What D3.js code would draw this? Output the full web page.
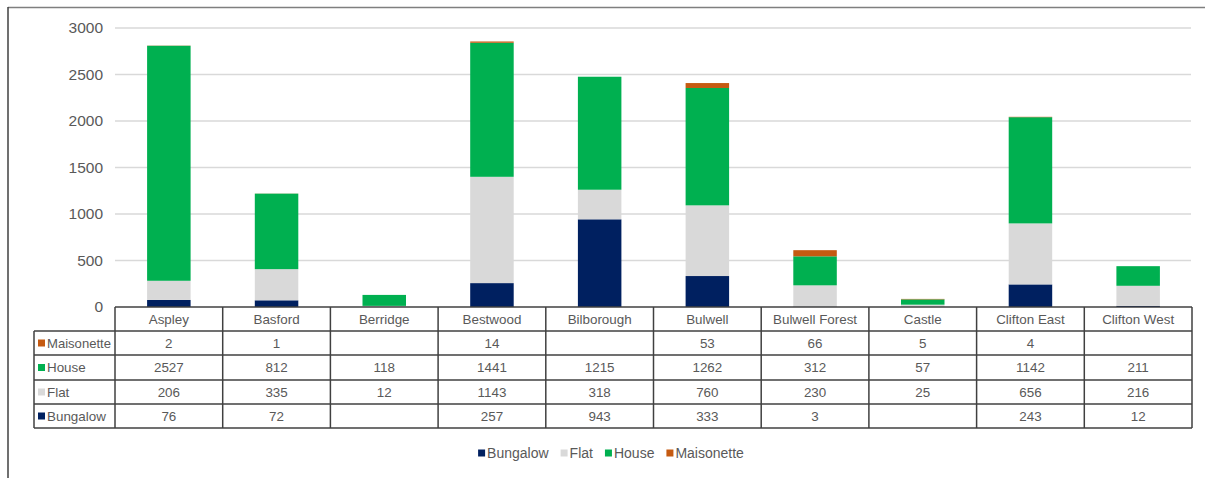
<!DOCTYPE html>
<html><head><meta charset="utf-8">
<script src="https://cdn.jsdelivr.net/npm/d3@7"></script>
<style>body{margin:0;background:#fff}svg{display:block}text{font-family:"Liberation Sans",Arial,sans-serif;fill:#595959}</style>
</head><body><svg id="c" width="1205" height="478"></svg>
<script>
const categories = ["Aspley","Basford","Berridge","Bestwood","Bilborough","Bulwell","Bulwell Forest","Castle","Clifton East","Clifton West"];
const bungalow = [76,72,null,257,943,333,3,null,243,12];
const flat = [206,335,12,1143,318,760,230,25,656,216];
const house = [2527,812,118,1441,1215,1262,312,57,1142,211];
const maisonette = [2,1,null,14,null,53,66,5,4,null];
const seriesNames = ["Bungalow","Flat","House","Maisonette"];
const seriesColors = ["#002060","#D9D9D9","#00B050","#C55A11"];
const yTicks = [0,500,1000,1500,2000,2500,3000];

const seriesVals = [bungalow, flat, house, maisonette];
const svg = d3.select("#c");
const x = d3.scaleBand().domain(categories).range([115,1192]).paddingInner(0).paddingOuter(0);
const y = d3.scaleLinear().domain([0,3000]).range([307,28]);
const fs = "13.4px";

// outer border (top & left)
svg.append("line").attr("x1",8).attr("x2",1205).attr("y1",7.5).attr("y2",7.5).attr("stroke","#7f7f7f").attr("stroke-width",1.5);
svg.append("line").attr("x1",8).attr("x2",8).attr("y1",7).attr("y2",478).attr("stroke","#404040").attr("stroke-width",1.5);

// gridlines
svg.append("g").selectAll("line").data(yTicks.filter(d=>d>0)).join("line")
  .attr("x1",115).attr("x2",1191).attr("y1",d=>y(d)).attr("y2",d=>y(d))
  .attr("stroke","#d9d9d9").attr("stroke-width",1.5);

// y axis labels
const yAxis = d3.axisLeft(y).tickValues(yTicks).tickSize(0).tickPadding(0).tickFormat(d3.format("d"));
const ya = svg.append("g").attr("transform","translate(103,0)").call(yAxis);
ya.select(".domain").remove();
ya.selectAll("text").style("font-size","15.5px").attr("fill","#595959").style("font-family","Liberation Sans, Arial");

// stacked bars
const rows = categories.map((c,i)=>{const o={cat:c}; seriesNames.forEach((s,j)=>o[s]=seriesVals[j][i]||0); return o;});
const stack = d3.stack().keys(seriesNames)(rows);
const bw = 43.5;
svg.append("g").selectAll("g").data(stack).join("g").attr("fill",(d,i)=>seriesColors[i])
  .selectAll("rect").data(d=>d).join("rect")
  .attr("x",d=>x(d.data.cat)+x.bandwidth()/2-bw/2).attr("width",bw)
  .attr("y",d=>y(d[1])).attr("height",d=>Math.max(0,y(d[0])-y(d[1])));

// data table
const rowTops = [307,331,355,380,404,428];
const tableOrder = [3,2,1,0];
const tg = svg.append("g");
const lineC = "#404040", lw = 1.5;
tg.append("line").attr("x1",115).attr("x2",1192).attr("y1",rowTops[0]).attr("y2",rowTops[0]).attr("stroke",lineC).attr("stroke-width",lw);
for (let r=1;r<rowTops.length;r++) tg.append("line").attr("x1",34).attr("x2",1192).attr("y1",rowTops[r]).attr("y2",rowTops[r]).attr("stroke",lineC).attr("stroke-width",lw);
tg.append("line").attr("x1",34).attr("x2",34).attr("y1",rowTops[1]).attr("y2",rowTops[5]).attr("stroke",lineC).attr("stroke-width",lw);
categories.forEach(c=>tg.append("line").attr("x1",x(c)).attr("x2",x(c)).attr("y1",rowTops[0]).attr("y2",rowTops[5]).attr("stroke",lineC).attr("stroke-width",lw));
tg.append("line").attr("x1",1192).attr("x2",1192).attr("y1",rowTops[0]).attr("y2",rowTops[5]).attr("stroke",lineC).attr("stroke-width",lw);
tg.selectAll("text.h").data(categories).join("text").attr("class","h")
  .attr("x",c=>x(c)+x.bandwidth()/2).attr("y",(rowTops[0]+rowTops[1])/2).attr("dy","0.36em")
  .attr("text-anchor","middle").style("font-size",fs).text(c=>c);
tableOrder.forEach((si,r)=>{
  const yc = (rowTops[r+1]+rowTops[r+2])/2;
  tg.append("rect").attr("x",38).attr("y",yc-3.5).attr("width",7).attr("height",7).attr("fill",seriesColors[si]);
  const t = tg.append("text").attr("x",47).attr("y",yc).attr("dy","0.36em").style("font-size",fs).text(seriesNames[si]);
  if (t.node().getComputedTextLength() > 64) t.attr("textLength",64).attr("lengthAdjust","spacingAndGlyphs");
  tg.selectAll(null).data(seriesVals[si]).join("text")
    .attr("x",(v,i)=>x(categories[i])+x.bandwidth()/2).attr("y",yc).attr("dy","0.36em")
    .attr("text-anchor","middle").style("font-size",fs).text(v=>v==null?"":v);
});

// legend
const lg = svg.append("g");
let lx = 0;
seriesNames.forEach((s,i)=>{
  const g = lg.append("g").attr("transform",`translate(${lx},0)`);
  g.append("rect").attr("x",0).attr("y",-3.5).attr("width",7).attr("height",7).attr("fill",seriesColors[i]);
  const t = g.append("text").attr("x",9).attr("dy","0.36em").style("font-size","14px").text(s);
  lx += 9 + t.node().getComputedTextLength() + 12;
});
const lwTot = lx - 12;
lg.attr("transform",`translate(${611-lwTot/2},453)`);
</script></body></html>
